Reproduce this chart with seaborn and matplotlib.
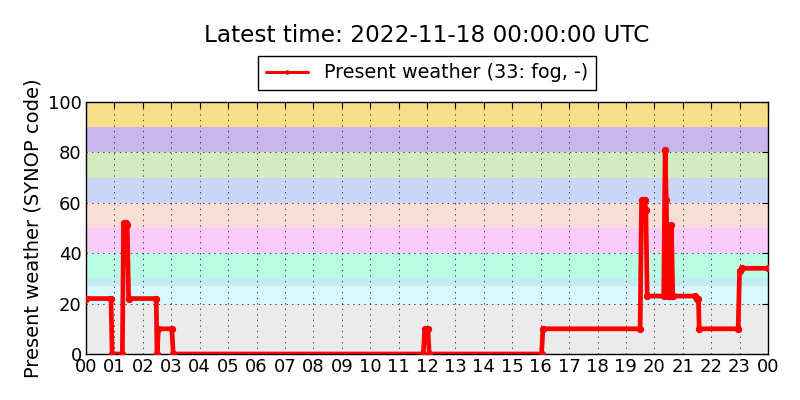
import matplotlib
matplotlib.use('Agg')
import matplotlib.pyplot as plt
import seaborn as sns
import pandas as pd

# hours since 00 UTC and the reported present weather code
hours = [0.0, 0.88, 0.92, 1.28, 1.32, 1.40, 1.45, 1.50, 2.47, 2.50, 2.55, 3.02,
         3.07, 11.87, 11.92, 12.03, 12.08, 16.03, 16.08, 19.50, 19.55, 19.67,
         19.70, 19.75, 20.33, 20.38, 20.42, 20.47, 20.55, 20.60, 20.65, 21.43,
         21.50, 21.55, 21.58, 22.95, 23.00, 23.07, 24.0]
codes = [22, 22, 0, 0, 52, 52, 51, 22, 22, 0, 10, 10,
         0, 0, 10, 10, 0, 0, 10, 10, 61, 61,
         57, 23, 23, 81, 61, 23, 23, 51, 23, 23,
         22, 22, 10, 10, 33, 34, 34]

hour_labels = ['%02d' % h for h in range(24)] + ['00']

# background bands of the SYNOP code groups
band_edges = [(0, 20), (20, 27), (27, 30), (30, 40), (40, 50), (50, 60),
              (60, 70), (70, 80), (80, 90), (90, 100)]
band_colors = ['#ebebeb', '#d9f8fd', '#c3ecf2', '#b9fde5', '#f9cbf9', '#f8ded5',
               '#c9d6f5', '#d3ebc1', '#c8b6ec', '#f7df8a']

df = pd.DataFrame({'hour': hours, 'code': codes})

sns.set_style('white')
plt.rcParams['font.family'] = ['DejaVu Sans']
plt.rcParams['text.color'] = 'black'
plt.rcParams['axes.labelcolor'] = 'black'

fig = plt.figure(figsize=(8, 4), dpi=100)
ax = fig.add_axes([0.1075, 0.115, 0.8525, 0.63])

for (lo, hi), c in zip(band_edges, band_colors):
    ax.axhspan(lo, hi, color=c, lw=0, zorder=0)

sns.lineplot(data=df, x='hour', y='code', ax=ax, color='red', lw=3.4,
             marker='.', markersize=9, markeredgecolor='red',
             estimator=None, sort=False,
             label='Present weather (33: fog, -)', zorder=3)

ax.set_xlim(0, 24)
ax.set_ylim(0, 100)
ax.set_xticks(range(25))
ax.set_xticklabels(hour_labels)
ax.set_yticks(range(0, 101, 20))
ax.tick_params(direction='in', top=True, right=True, labelsize=13,
               length=4, width=0.8, colors='black', labelcolor='black', pad=3)
ax.grid(True, color='black', linestyle=(0, (2, 6)), linewidth=0.5, zorder=1)
ax.set_axisbelow(False)
for s in ax.spines.values():
    s.set_color('black')
    s.set_linewidth(1.0)
ax.set_xlabel('')
ax.set_ylabel('Present weather (SYNOP code)', fontsize=14, color='black')
ax.set_title('Latest time: 2022-11-18 00:00:00 UTC', fontsize=16.7,
             pad=43, color='black')

leg = ax.legend(loc='lower center', bbox_to_anchor=(0.5, 1.01), fontsize=13.8,
                fancybox=False, framealpha=1, edgecolor='black',
                handlelength=2.2, borderpad=0.4)
leg.get_frame().set_linewidth(1.0)
for t in leg.get_texts():
    t.set_color('black')
for h in leg.legend_handles:
    h.set_linewidth(2.2)
    h.set_markersize(5)

fig.savefig('out.png', dpi=100)
plt.close(fig)
